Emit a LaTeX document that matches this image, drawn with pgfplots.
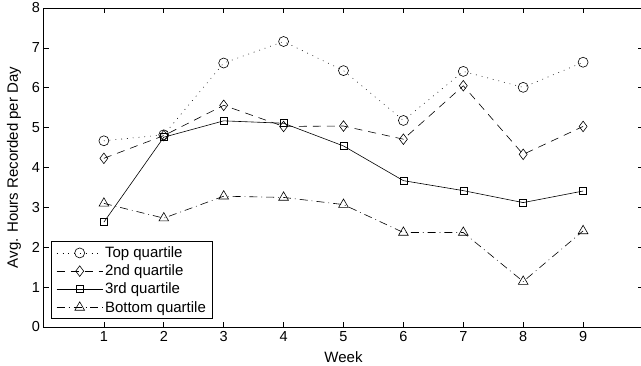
\documentclass[border=0pt]{standalone}
\usepackage{fontspec}
\setmainfont{Liberation Sans}
\usepackage{pgfplots}
\pgfplotsset{compat=1.18}
\begin{document}
\begin{tikzpicture}
\begin{axis}[
  name=ax,
  scale only axis, width=599pt, height=319pt,
  xmin=0, xmax=10, ymin=0, ymax=8,
  xtick={1,...,9}, ytick={0,...,8},
  tick align=inside, major tick length=5pt,
  tick style={black, line width=0.6pt},
  axis line style={line width=1pt},
  /pgf/number format/assume math mode=true,
  tick label style={font=\fontsize{14.5}{16}\selectfont},
  xticklabel style={yshift=-0.5pt},
  yticklabel style={xshift=-0.5pt},
  label style={font=\fontsize{15}{17}\selectfont},
  xlabel={Week}, ylabel={Avg. Hours Recorded per Day},
  xlabel style={yshift=-3pt},
  ylabel style={yshift=4pt},
  legend cell align=left,
  legend style={at={(axis description cs:0.0117,0.025)}, anchor=south west,
    draw=black, line width=0.8pt, fill=white, inner xsep=5pt, inner ysep=3pt,
    row sep=1.8pt, font=\fontsize{15}{17}\selectfont,
    nodes={inner xsep=2pt}},
  legend image code/.code={%
    \draw[mark repeat=2,mark phase=2,#1] plot coordinates {(0pt,0pt) (23pt,0pt) (46pt,0pt)};},
  every axis plot/.append style={black, line width=0.6pt},
]
\addplot[dash pattern=on 0.8pt off 5pt, mark=o, mark size=5pt, mark options={solid}] coordinates {
(1,4.67) (2,4.82) (3,6.62) (4,7.16) (5,6.43) (6,5.18) (7,6.41) (8,6.01) (9,6.64)};
\addlegendentry{Top quartile}
\addplot[dash pattern=on 8pt off 6pt, mark=diamond, mark size=5.3pt, mark options={solid}] coordinates {
(1,4.23) (2,4.80) (3,5.56) (4,5.03) (5,5.04) (6,4.71) (7,6.05) (8,4.33) (9,5.03)};
\addlegendentry{2nd quartile}
\addplot[solid, mark=square, mark size=3.5pt, mark options={solid}] coordinates {
(1,2.63) (2,4.76) (3,5.17) (4,5.11) (5,4.54) (6,3.67) (7,3.42) (8,3.12) (9,3.41)};
\addlegendentry{3rd quartile}
\addplot[dash pattern=on 8pt off 4pt on 0.8pt off 4pt, mark=triangle, mark size=5.6pt, mark options={solid}] coordinates {
(1,3.10) (2,2.73) (3,3.28) (4,3.25) (5,3.07) (6,2.37) (7,2.37) (8,1.14) (9,2.41)};
\addlegendentry{Bottom quartile}
\end{axis}
\pgfresetboundingbox
\path[use as bounding box] ([shift={(-44pt,-38pt)}]ax.south west) rectangle ++(641pt,365pt);
\end{tikzpicture}
\end{document}
